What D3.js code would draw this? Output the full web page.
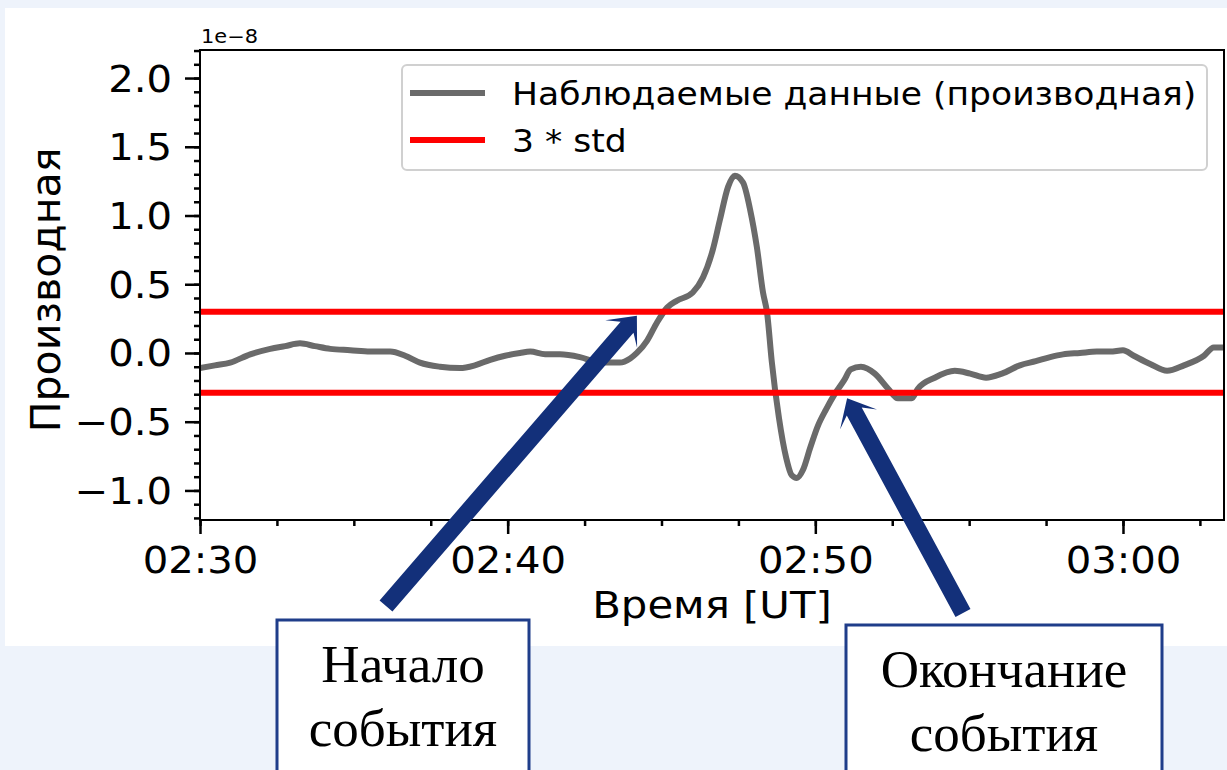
<!DOCTYPE html>
<html><head><meta charset="utf-8">
<script src="https://cdn.jsdelivr.net/npm/d3@7"></script>
<style>body{margin:0;background:#eef3fb;} svg{display:block}</style>
</head><body><svg id="c" width="1227" height="770"></svg>
<script>
// ---------- DATA ----------
const times = ["02:30:00","02:30:29","02:30:59","02:31:38","02:32:17","02:32:46","02:33:15","02:33:44","02:34:14","02:34:53",
"02:35:32","02:36:11","02:36:40","02:37:09","02:37:48","02:38:27","02:38:56","02:39:26","02:39:55","02:40:24",
"02:40:44","02:41:13","02:41:42","02:42:21","02:43:00","02:43:39","02:43:59","02:44:12","02:44:32","02:44:51",
"02:45:11","02:45:30","02:46:01","02:46:21","02:46:40","02:46:54","02:47:10","02:47:23","02:47:39","02:47:53",
"02:48:06","02:48:18","02:48:26","02:48:35","02:48:49","02:49:03","02:49:14","02:49:24","02:49:36","02:49:50",
"02:50:05","02:50:21","02:50:36","02:50:56","02:51:09","02:51:29","02:51:56","02:52:22","02:52:41","02:53:08",
"02:53:20","02:53:53","02:54:32","02:55:02","02:55:33","02:56:04","02:56:39","02:57:10","02:57:38","02:58:03",
"02:58:36","02:59:09","02:59:35","03:00:00","03:00:21","03:00:53","03:01:26","03:01:59","03:02:38","03:02:57","03:03:17"];
const values = [-0.11,-0.09,-0.07,-0.01,0.03,0.05,0.07,0.05,0.03,0.02,
0.01,0.01,-0.02,-0.07,-0.10,-0.11,-0.09,-0.05,-0.02,0.00,
0.01,-0.01,-0.01,-0.03,-0.07,-0.07,-0.04,0.00,0.09,0.22,
0.33,0.38,0.44,0.55,0.75,0.97,1.21,1.29,1.24,1.04,
0.77,0.44,0.29,-0.06,-0.47,-0.76,-0.89,-0.91,-0.85,-0.69,
-0.53,-0.41,-0.31,-0.20,-0.12,-0.10,-0.15,-0.26,-0.33,-0.33,
-0.26,-0.18,-0.13,-0.15,-0.18,-0.15,-0.09,-0.06,-0.03,-0.01,
0.00,0.01,0.01,0.02,-0.02,-0.08,-0.13,-0.09,-0.02,0.04,0.04];
const thresholds = [0.30, -0.29];
const xMajorTicks = ["02:30:00","02:40:00","02:50:00","03:00:00"];
const xDomain = ["02:30:00","03:03:17"];
const yMajorTicks = [-1.0,-0.5,0.0,0.5,1.0,1.5,2.0];
const yDomain = [-1.215, 2.204];
const legendLabels = ["Наблюдаемые данные (производная)", "3 * std"];
const xLabel = "Время [UT]";
const yLabel = "Производная";
const offsetLabel = "1e\u22128";
const annotationTexts = [["Начало","события"],["Окончание","события"]];
const annotationTimes = ["02:44:12","02:51:02"];
const annotationValues = [0.27, -0.33];

// ---------- LAYOUT ----------
const W=1227,H=770, SX=1.1;
const m={left:200,top:50,right:1224,bottom:520};
const svg=d3.select("#c");
svg.append("rect").attr("width",W).attr("height",H).attr("fill","#eef3fb");
svg.append("rect").attr("x",5).attr("y",8).attr("width",W-5).attr("height",638).attr("fill","#fff");

const parse=d3.timeParse("%H:%M:%S");
const data=times.map((t,i)=>({t:parse(t),v:values[i]}));
const x=d3.scaleTime().domain(xDomain.map(parse)).range([m.left,m.right]);
const y=d3.scaleLinear().domain(yDomain).range([m.bottom,m.top]);

svg.append("clipPath").attr("id","clip").append("rect")
  .attr("x",m.left).attr("y",m.top).attr("width",m.right-m.left).attr("height",m.bottom-m.top);

const plot=svg.append("g").attr("clip-path","url(#clip)");
plot.append("path").datum(data)
  .attr("fill","none").attr("stroke","#6a6a6a").attr("stroke-width",6).attr("stroke-linejoin","round")
  .attr("d",d3.line().x(d=>x(d.t)).y(d=>y(d.v)).curve(d3.curveMonotoneX));
plot.selectAll("line.thr").data(thresholds).join("line").attr("class","thr")
  .attr("x1",m.left).attr("x2",m.right).attr("y1",d=>y(d)).attr("y2",d=>y(d))
  .attr("stroke","#ff0000").attr("stroke-width",6);

const font="DejaVu Sans";
// x axis
const t0=parse(xDomain[0]);
const xMinor=d3.range(0,34,2.5).map(mn=>new Date(+t0+mn*60000)).filter(d=>d<=x.domain()[1]);
const gxm=svg.append("g").attr("transform",`translate(0,${m.bottom})`)
  .call(d3.axisBottom(x).tickValues(xMinor).tickSize(6).tickFormat(""));
const gx=svg.append("g").attr("transform",`translate(0,${m.bottom})`)
  .call(d3.axisBottom(x).tickValues(xMajorTicks.map(parse)).tickSize(14).tickFormat(d3.timeFormat("%H:%M")));
[gxm,gx].forEach(g=>{g.select(".domain").remove(); g.selectAll("line").attr("stroke","#000").attr("stroke-width",2.5);});
gx.selectAll("text").attr("font-family",font).attr("font-size",36.5).attr("fill","#000")
  .attr("y",53).attr("dy",null).attr("transform",`scale(${SX},1)`);

// y axis
const yMinor=d3.range(-12,23).map(k=>k/10);
const gym=svg.append("g").attr("transform",`translate(${m.left},0)`)
  .call(d3.axisLeft(y).tickValues(yMinor).tickSize(6).tickFormat(""));
const gy=svg.append("g").attr("transform",`translate(${m.left},0)`)
  .call(d3.axisLeft(y).tickValues(yMajorTicks).tickSize(15).tickFormat(d3.format(".1f")));
[gym,gy].forEach(g=>{g.select(".domain").remove(); g.selectAll("line").attr("stroke","#000").attr("stroke-width",2.5);});
gy.selectAll("text").attr("font-family",font).attr("font-size",36.5).attr("fill","#000")
  .attr("x",-28/SX).attr("dy",null).attr("y",13).attr("transform",`scale(${SX},1)`);

// spines
svg.append("rect").attr("x",m.left).attr("y",m.top).attr("width",m.right-m.left).attr("height",m.bottom-m.top)
  .attr("fill","none").attr("stroke","#000").attr("stroke-width",2);

function stext(g,txt,px,py,size,anchor,fam){
  return g.append("text").attr("transform",`translate(${px},${py}) scale(${SX},1)`)
    .attr("font-family",fam||font).attr("font-size",size).attr("text-anchor",anchor||"start").attr("fill","#000").text(txt);
}
stext(svg,offsetLabel,201,43,19);
stext(svg,xLabel,712,618,38,"middle");
svg.append("text").attr("transform",`translate(60,290) rotate(-90)`)
  .attr("font-family",font).attr("font-size",41).attr("text-anchor","middle").attr("fill","#000").text(yLabel);

// legend
const lg=svg.append("g");
lg.append("rect").attr("x",402).attr("y",65).attr("width",805).attr("height",105).attr("rx",5)
  .attr("fill","#fff").attr("fill-opacity",0.85).attr("stroke","#d0d0d0").attr("stroke-width",2);
const legendColors=["#6a6a6a","#ff0000"];
legendLabels.forEach((lab,i)=>{
  const yy=93+i*47;
  lg.append("line").attr("x1",410).attr("x2",485).attr("y1",yy).attr("y2",yy).attr("stroke",legendColors[i]).attr("stroke-width",6);
  stext(lg,lab,512,yy+12,31.4);
});

// annotations
const boxes=[{x:277,y:620,w:252,tail:[386,606],cx:403},{x:846,y:625,w:316,tail:[963,613],cx:1004}];
const navy="#13307a";
annotationTexts.forEach((lines,i)=>{
  const b=boxes[i];
  svg.append("rect").attr("x",b.x).attr("y",b.y).attr("width",b.w).attr("height",H-b.y+10)
    .attr("fill","#fff").attr("stroke","#1f3d8a").attr("stroke-width",3);
  lines.forEach((ln,j)=>{
    svg.append("text").attr("x",b.cx).attr("y",b.y+62+j*64).attr("text-anchor","middle")
      .attr("font-family","Liberation Serif").attr("font-size",53).attr("fill","#000").text(ln);
  });
  // arrow
  const tip=[x(parse(annotationTimes[i])),y(annotationValues[i])];
  const tail=b.tail;
  const dx=tip[0]-tail[0],dy=tip[1]-tail[1],len=Math.hypot(dx,dy);
  const u=[dx/len,dy/len],n=[-u[1],u[0]];
  const w=17,L=24,HW=21,N=15;
  const P=(a,b)=>[tip[0]-u[0]*a+n[0]*b, tip[1]-u[1]*a+n[1]*b];
  const pts=[[tail[0]+n[0]*w/2,tail[1]+n[1]*w/2],P(N,w/2),P(L,HW),tip,P(L,-HW),P(N,-w/2),[tail[0]-n[0]*w/2,tail[1]-n[1]*w/2]];
  svg.append("polygon").attr("points",pts.map(p=>p.join(",")).join(" ")).attr("fill",navy);
});
</script></body></html>
